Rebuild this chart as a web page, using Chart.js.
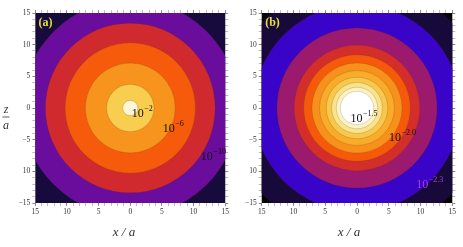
<!DOCTYPE html>
<html>
<head>
<meta charset="utf-8">
<script src="https://cdn.jsdelivr.net/npm/chart.js@4.4.1/dist/chart.umd.min.js"></script>
<style>
html, body { margin: 0; padding: 0; background: #fff; overflow: hidden; }
#wa { position: absolute; left: 0; top: 0; width: 231px; height: 247px; }
#wb { position: absolute; left: 231px; top: 0; width: 232px; height: 247px; }
</style>
</head>
<body>
<div id="wa"><canvas id="chartA" width="231" height="247"></canvas></div>
<div id="wb"><canvas id="chartB" width="232" height="247"></canvas></div>
<script>
// tick values and the text shown at them
const ticksAt   = [-15, -10, -5, 0, 5, 10, 15];
const xTickText = ['15', '10', '5', '0', '5', '10', '15'];
const yTickText = ['\u221215', '10', '\u22125', '0', '5', '10', '15'];

// panel (a): contour radii (x/a units), outermost first
const radiiA  = [22, 17.1, 13.4, 10.3, 7.1, 3.75, 1.2];
const colorsA = ['#170b3d', '#6a0d9c', '#d12a2e', '#f55b0b', '#f7941d', '#f9cd4e', '#fdf7d7'];
const expA    = ['\u22122', '\u22126', '\u221210'];

// panel (b)
const radiiB  = [22, 20.1, 16.3, 12.6, 9.9, 8.4, 7.1, 5.9, 4.85, 4.0, 3.27, 2.63];
const colorsB = ['#050208', '#170a3a', '#3a03c8', '#9b1a6e', '#d42e2a', '#f55a0a',
                 '#f8901c', '#f9ab2a', '#f8c84c', '#fbe28c', '#fdf3c0', '#ffffff'];
const expB    = ['\u22121.5', '\u22122.0', '\u22122.3'];

function ringSets( radii, colors ){
  let n = radii.length;
  return radii.map( (r, i) => ({
    data: [ { x: 0, y: 0, r: 1 } ],
    backgroundColor: colors[i],
    borderColor: i == 0 ? colors[i] : 'rgba(70,45,20,0.3)',
    borderWidth: i == 0 ? 0 : 0.6,
    clip: 0,
    order: n - i
  }));
}

function axis( pos, texts, size ){
  return {
    type: 'linear',
    position: pos,
    axis: (pos == 'top' || pos == 'bottom') ? 'x' : 'y',
    min: -15, max: 15,
    grid: {
      display: true, drawOnChartArea: false, drawTicks: true, tickLength: 3, tickWidth: 1,
      tickColor: c => ( c.tick && c.tick.value % 5 == 0 ) ? '#8a8a8a' : '#bdbdbd'
    },
    border: { display: false },
    ticks: {
      display: texts != null,
      stepSize: 1, autoSkip: false, maxRotation: 0, minRotation: 0, padding: 2,
      font: { family: 'Liberation Serif', size: 7.5 }, color: '#333',
      callback: v => {
        let k = ticksAt.indexOf( v );
        return ( k < 0 || !texts ) ? '' : texts[k];
      }
    },
    afterFit: s => {
      if( pos == 'top' || pos == 'bottom' ) s.height = size; else s.width = size;
    }
  };
}

const notes = {
  id: 'notes',
  afterDraw( chart, args, opts ){
    let ctx = chart.ctx, xs = chart.scales.x, ys = chart.scales.y;
    ctx.save();
    ctx.textBaseline = 'alphabetic';
    for( let n of opts.items ){
      let px = xs.getPixelForValue( n.x ), py = ys.getPixelForValue( n.y );
      ctx.fillStyle = n.color;
      ctx.font = n.font;
      ctx.fillText( n.base, px, py );
      if( n.exp ){
        let w = ctx.measureText( n.base ).width;
        ctx.font = n.expFont;
        ctx.fillText( n.exp, px + w + 0.5, py - 6 );
      }
    }
    // axis titles
    ctx.fillStyle = '#333';
    ctx.font = 'italic 13px "Liberation Serif"';
    ctx.textAlign = 'center';
    ctx.fillText( 'x / a', opts.titleX, 236 );
    if( opts.zTitle ){
      ctx.font = 'italic 12px "Liberation Serif"';
      ctx.fillText( 'z', 6, 113 );
      ctx.fillText( 'a', 6, 129 );
      ctx.strokeStyle = '#333';
      ctx.lineWidth = 0.8;
      ctx.beginPath(); ctx.moveTo( 2.5, 117 ); ctx.lineTo( 9.5, 117 ); ctx.stroke();
    }
    ctx.restore();
  }
};

function makeChart( id, radii, colors, pad, items, titleX, zTitle ){
  let chart = new Chart( document.getElementById( id ), {
    type: 'bubble',
    data: { datasets: ringSets( radii, colors ) },
    options: {
      responsive: false,
      animation: false,
      events: [],
      layout: { padding: 0, autoPadding: false },
      plugins: {
        legend: { display: false },
        tooltip: { enabled: false },
        notes: { items: items, titleX: titleX, zTitle: zTitle }
      },
      scales: {
        x:  axis( 'bottom', xTickText, 44 ),
        y:  axis( 'left', yTickText, pad.left ),
        x2: axis( 'top', null, 13 ),
        y2: axis( 'right', null, pad.right )
      }
    },
    plugins: [ notes ]
  });
  // bubble r is in pixels: convert each contour radius through the x scale
  let xs = chart.scales.x;
  chart.data.datasets.forEach( (d, i) => {
    d.data[0].r = xs.getPixelForValue( radii[i] ) - xs.getPixelForValue( 0 );
  });
  chart.update();
  return chart;
}

const big = '12px "Liberation Serif"', small = '8px "Liberation Serif"';
const labelFont = 'bold 12px "Liberation Serif"';

makeChart( 'chartA', radiiA, colorsA, { left: 35.3, right: 5 }, [
  { base: '(a)', x: -14.5, y: 12.95, color: '#e4e03a', font: labelFont },
  { base: '10', exp: expA[0], x: 0.22,  y: -1.42, color: '#111', font: big, expFont: small },
  { base: '10', exp: expA[1], x: 5.14,  y: -3.79, color: '#111', font: big, expFont: small },
  { base: '10', exp: expA[2], x: 11.15, y: -8.2,  color: '#111', font: big, expFont: small }
], 124, true );

makeChart( 'chartB', radiiB, colorsB, { left: 30.7, right: 10.7 }, [
  { base: '(b)', x: -14.45, y: 12.95, color: '#e4e03a', font: labelFont },
  { base: '10', exp: expB[0], x: -1.02, y: -2.16, color: '#111', font: big, expFont: small },
  { base: '10', exp: expB[1], x: 5.02,  y: -5.2,  color: '#111', font: big, expFont: small },
  { base: '10', exp: expB[2], x: 9.32,  y: -12.6, color: '#a63fd6', font: big, expFont: small }
], 118, false );
</script>
</body>
</html>
